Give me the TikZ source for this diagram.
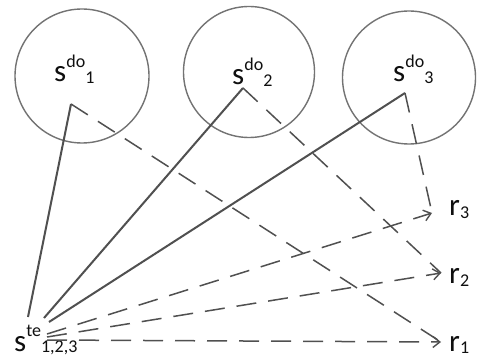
\documentclass[tikz,border=0pt]{standalone}
\usepackage{fontspec}
\setmainfont{Carlito}
\usetikzlibrary{arrows.meta}
\definecolor{circgray}{RGB}{115,115,115}
\definecolor{linegray}{RGB}{80,80,80}
\definecolor{txt}{RGB}{15,15,15}
\newcommand\scr{\fontsize{18}{18}\selectfont}
\newcommand\tens[3]{#1\raisebox{14.5pt}{\scr #2}\raisebox{-1.5pt}{\scr #3}}
\begin{document}
\begin{tikzpicture}[x=1pt,y=-1pt,
  ring/.style={circle,draw=circgray,line width=1.4pt,minimum size=#1,inner sep=0pt},
  lab/.style={anchor=base west,inner sep=0pt,text=txt,font=\fontsize{31}{31}\selectfont},
  solidcon/.style={draw=linegray,line width=2pt},
  dashcon/.style={draw=linegray,line width=1.5pt,dash pattern=on 20pt off 12pt},
  tip/.style={-{Straight Barb[length=7pt,width=11pt,line width=1.4pt]}}]
\useasboundingbox (0,0) rectangle (478,358);
\fill[white] (0,0) rectangle (478,358);
% circles
\node[ring=134pt] (c1) at (82,76) {};
\node[ring=131pt] (c2) at (249,72) {};
\node[ring=133pt] (c3) at (409,77.5) {};
% labels
\node[lab] (d1) at (54,82) {\tens{s}{do}{1}};
\node[lab] (d2) at (232,85) {\tens{s}{do}{2}};
\node[lab] (d3) at (393,82) {\tens{s}{do}{3}};
\node[lab] (te) at (14,351) {\tens{s}{te}{1,2,3}};
\node[lab] (r3) at (449,215) {r\raisebox{-3pt}{\scr 3}};
\node[lab] (r2) at (449,283) {r\raisebox{-3pt}{\scr 2}};
\node[lab] (r1) at (449,351) {r\raisebox{-2.5pt}{\scr 1}};
% apex points
\coordinate (a1) at (71,104);
\coordinate (a2) at (243,88);
\coordinate (a3) at (405,93);
% end points at s^te
\coordinate (s1) at (28,317);
\coordinate (s2) at (44,318);
\coordinate (s3) at (49,322);
\coordinate (e3) at (47,334);
\coordinate (e2) at (47,337);
\coordinate (e1) at (47,340);
% tips at r
\coordinate (t3) at (432,213);
\coordinate (t2) at (441,273);
\coordinate (t1) at (441,342);
% solid lines
\draw[solidcon] (a1) -- (s1);
\draw[solidcon] (a2) -- (s2);
\draw[solidcon] (a3) -- (s3);
% dashed lines from circles
\draw[dashcon] (a1) -- (t1);
\draw[dashcon] (a2) -- (t2);
\draw[dashcon] (a3) -- (t3);
% dashed lines from s^te
\draw[dashcon,tip] (e3) -- (t3);
\draw[dashcon,tip] (e2) -- (t2);
\draw[dashcon,tip] (e1) -- (t1);
\end{tikzpicture}
\end{document}
